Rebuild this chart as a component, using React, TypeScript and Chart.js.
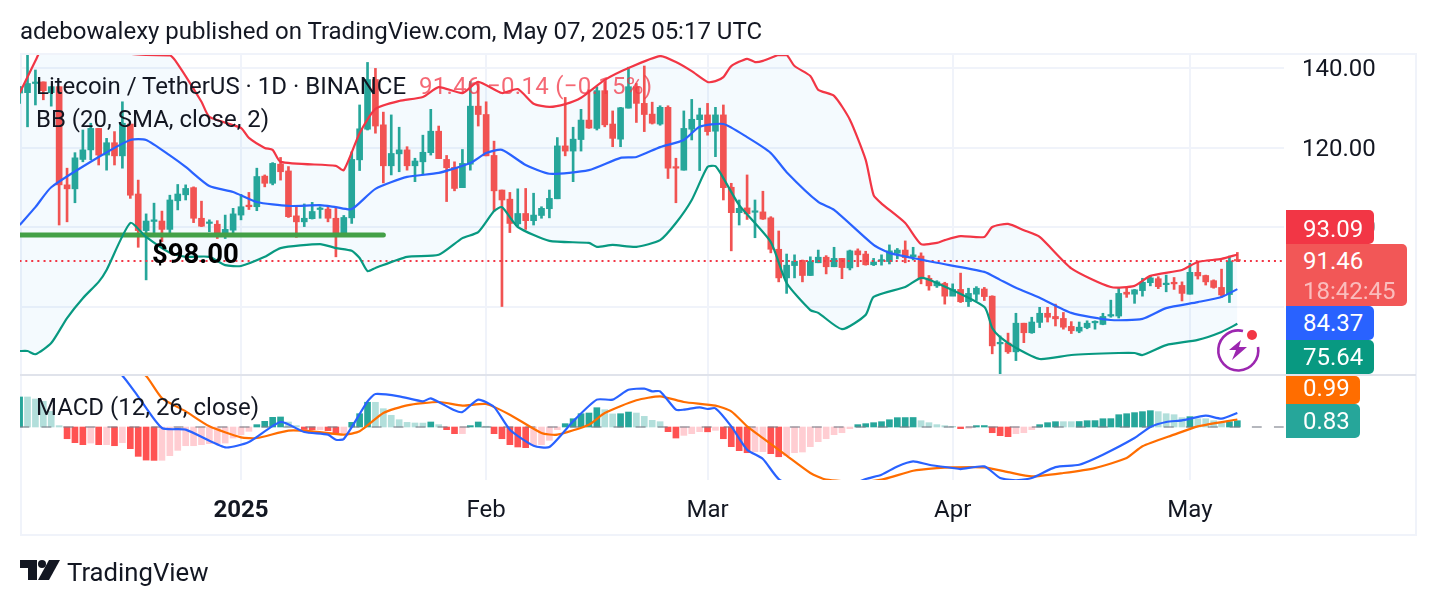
import { useEffect, useRef } from 'react';
import { Chart, registerables } from 'chart.js';

Chart.register(...registerables);

// daily candles, Dec 4 2024 -> May 7 2025
const opens = [
  133.7,133.8,136.1,136.5,133.8,135.3,110.6,109.6,117.0,119.4,
  124.8,118.1,121.2,117.9,125.9,108.3,99.1,101.4,101.5,99.4,
  106.6,108.1,109.9,102.2,100.9,100.7,98.0,99.2,103.0,105.5,
  105.1,112.8,111.0,115.8,114.1,102.8,101.3,102.1,104.4,104.5,
  102.2,98.0,102.3,116.9,124.6,137.1,125.7,115.4,118.4,119.4,
  115.4,116.4,118.7,124.1,117.0,115.0,109.9,115.8,130.4,128.3,
  118.0,109.3,107.0,100.8,103.4,101.6,102.9,104.6,107.1,120.4,
  119.1,122.0,126.9,124.8,134.3,125.9,122.1,129.9,135.3,131.1,
  128.4,125.9,130.1,115.0,114.3,124.6,127.0,128.2,124.1,128.2,
  110.0,103.6,104.8,103.7,103.8,102.3,94.4,87.2,90.3,91.6,
  87.8,91.0,92.4,90.0,92.1,89.7,94.0,93.2,90.5,91.4,
  91.3,93.4,94.2,92.5,92.7,87.1,85.2,85.8,82.6,84.3,
  81.2,83.1,84.4,82.6,70.6,70.8,68.6,75.8,73.4,76.0,
  78.3,77.5,77.0,75.0,73.8,74.7,75.9,75.5,77.6,77.6,
  83.6,83.1,84.0,86.0,87.0,85.5,86.1,85.3,83.1,88.6,
  87.8,86.5,84.8,83.0,91.6,
];
const closes = [
  135.3,136.1,136.4,134.3,135.3,110.6,109.6,117.4,119.4,124.8,
  118.1,121.2,117.9,126.1,108.0,99.1,101.5,101.8,99.4,106.8,
  108.3,109.7,102.2,100.2,101.1,98.2,99.4,103.3,105.1,105.1,
  112.7,111.0,116.0,113.9,102.6,101.3,102.2,103.9,104.7,102.2,
  98.0,102.4,117.0,124.7,137.1,125.4,115.4,118.5,119.4,115.4,
  116.6,118.8,124.1,117.2,114.9,109.7,116.0,130.4,128.3,117.9,
  109.1,106.8,100.9,103.4,101.6,103.0,104.7,107.2,120.4,119.1,
  122.1,126.9,124.9,134.3,125.7,122.3,130.0,135.3,131.1,128.3,
  126.1,130.1,114.8,114.8,124.8,127.1,128.2,124.0,128.2,109.9,
  103.6,104.7,103.3,104.0,102.0,94.4,87.2,90.4,91.4,87.8,
  91.4,92.4,90.0,92.1,89.8,94.0,93.0,90.5,91.2,91.8,
  94.0,94.2,92.3,93.0,87.0,85.2,86.2,82.6,84.3,81.2,
  83.3,84.6,82.5,70.1,71.0,68.6,75.8,73.4,76.1,78.3,
  77.3,76.9,74.8,73.9,74.8,75.8,76.1,77.5,77.9,83.3,
  83.1,84.2,86.1,87.2,85.0,85.8,85.7,83.3,88.6,87.7,
  86.2,84.8,82.9,91.4,91.46,
];
const highs = [
  135.3,143.7,139.5,136.5,135.3,135.3,114.8,118.7,124.4,126.1,
  124.8,122.3,124.0,131.5,125.9,111.8,103.3,106.0,104.0,108.0,
  110.7,110.6,110.1,106.5,101.8,101.6,103.0,104.7,108.2,108.7,
  114.8,113.1,116.2,117.5,115.2,105.1,105.8,106.2,105.1,105.3,
  104.7,102.9,118.9,130.7,141.4,139.9,128.9,128.2,125.1,120.2,
  117.3,123.1,129.6,125.4,118.0,116.4,119.5,136.6,136.1,131.5,
  121.6,109.3,108.7,109.6,109.7,108.5,105.1,109.3,122.5,132.6,
  125.1,129.6,134.5,135.3,136.6,129.2,130.1,140.2,136.1,140.5,
  131.4,130.5,130.5,117.3,129.2,132.1,129.9,131.1,130.1,130.7,
  111.0,106.8,113.1,106.8,109.0,102.6,99.0,93.2,93.0,91.7,
  92.5,94.2,92.8,94.9,92.1,94.2,94.5,93.9,92.1,93.0,
  95.5,94.6,96.5,94.9,93.5,87.8,86.5,86.1,85.7,88.4,
  84.6,85.0,84.8,82.7,72.6,73.3,78.3,75.8,77.3,79.8,
  79.8,80.6,78.5,76.2,76.1,76.4,76.4,78.3,81.6,84.6,
  84.7,84.3,87.1,87.8,87.5,87.9,87.3,86.2,90.9,91.4,
  87.9,86.7,89.4,92.7,93.6,
];
const lows = [
  131.1,125.2,130.7,132.0,130.4,100.5,101.3,106.1,116.4,116.9,
  115.6,114.3,115.6,114.8,107.2,94.9,86.7,98.0,96.3,98.2,
  104.3,106.8,101.1,100.1,98.8,97.1,97.1,98.0,101.8,104.4,
  104.1,110.1,110.6,111.8,102.4,97.4,100.1,102.0,102.2,101.3,
  92.5,97.7,100.9,114.2,124.4,123.6,111.1,113.1,113.9,114.3,
  111.4,113.1,118.1,117.2,106.4,109.1,109.9,114.3,125.4,117.9,
  103.9,80.0,98.6,100.3,99.4,100.5,102.2,102.3,107.1,117.9,
  111.4,119.1,124.8,124.4,125.2,120.2,120.2,129.9,126.3,124.0,
  125.9,125.6,112.2,106.1,114.3,121.9,114.2,123.1,117.7,106.8,
  94.0,100.5,101.9,97.3,101.9,93.5,86.2,83.3,87.2,86.2,
  87.8,91.0,88.2,90.0,87.0,89.2,90.0,90.4,90.3,90.4,
  90.7,92.0,91.0,91.7,85.7,84.1,84.8,80.6,82.7,81.0,
  80.0,81.5,81.5,68.1,63.0,68.2,66.4,70.9,73.25,74.7,
  76.1,75.1,74.3,73.2,73.4,74.4,74.3,75.4,77.3,77.1,
  82.3,80.8,82.6,85.2,84.5,83.7,84.3,81.4,83.1,86.9,
  85.4,84.6,82.3,81.0,91.3,
];

// bollinger bands, read at the bends of each line: [bar, price]
const upperBand = [
  [0,133.7],[2,141.8],[3,145.5],[6,148],[10,146],[14,143.6],[16,143.3],[19,143.2],[20,141],[23,131.5],
  [24,127.7],[28,124.9],[29,122.4],[31,119.9],[32,119.4],[33,116.4],[40,115.4],[41,114.3],[43,123.6],[45,129.7],
  [48,131.7],[51,132.7],[53,135.2],[56,133.7],[58,136.5],[61,133.7],[63,134.7],[65,131],[67,130.2],[69,130.9],
  [71,132.5],[74,137],[77,140],[81,143],[83,141.5],[85,139.2],[87,136.5],[88,136.7],[89,137.7],[90,140.5],
  [92,142.3],[93,141.5],[94,141.8],[96,143.3],[97,143.3],[98,140.5],[100,138],[101,134.5],[103,133],[105,127],
  [107,116.9],[108,108],[109,105.9],[112,101],[114,95.7],[116,96],[117,96.7],[119,97.7],[122,97.5],[123,100],
  [125,100.8],[127,99.2],[129,97.5],[133,89.6],[138,84.9],[141,85.2],[143,87.7],[147,89.2],[149,91.2],[152,92],
  [154,93.09],
];
const middleBand = [
  [0,100.5],[2,105],[4,110],[10,117.6],[14,121.9],[16,121.9],[19,118],[21,115.1],[24,110.3],[27,108.8],
  [30,106.3],[34,105.3],[38,105.5],[40,105],[42,104.5],[45,109.6],[49,112.6],[53,113.6],[57,116.1],[59,118.6],
  [61,119.4],[64,115.6],[67,113.4],[72,114.3],[76,117.4],[78,117.6],[81,120.1],[84,121.9],[86,125.2],[89,125.9],
  [92,122.6],[95,118.6],[97,113.8],[101,106.3],[103,104.3],[108,95.5],[110,93.5],[114,91.8],[116,91],[122,88.7],
  [124,86.7],[126,84.7],[129,82.2],[133,78.4],[138,76.6],[142,76.9],[145,79.6],[149,81.1],[152,82.4],[154,84.37],
];
const lowerBand = [
  [0,68.8],[1,68.8],[2,68],[4,70.8],[6,77.1],[8,82.1],[10,86.2],[11,89.2],[14,101],[16,97.5],
  [19,93.5],[21,92.5],[24,92.5],[26,90.4],[28,90.2],[31,92.5],[33,94.7],[38,95.7],[40,94.7],[42,94],
  [43,92.2],[44,88.9],[45,89.7],[49,92.5],[53,93],[56,97.2],[58,98.7],[60,104],[61,105],[63,100],
  [67,96.5],[72,96],[73,95],[75,95.5],[78,95],[81,96.7],[83,101],[85,106.8],[87,115.1],[88,115.3],
  [89,112.3],[91,105.5],[95,96.2],[97,85.9],[100,79.1],[101,78.4],[104,74.3],[107,77.9],[108,82.4],[112,84.9],
  [114,87.2],[116,85.9],[122,79.9],[123,74.6],[124,72.3],[126,69.6],[129,66.8],[133,67.8],[139,68.3],[141,68.3],
  [142,67.8],[145,70.3],[149,71.6],[152,73.6],[154,75.64],
];

// macd pane
const macdHist = [
  3.95,3.95,3.68,3.37,2.06,.18,-1.54,-2.06,-2.32,-2.11,
  -2.32,-2.32,-2.46,-2.06,-2.85,-3.86,-4.35,-4.39,-4.38,-3.77,
  -3.07,-2.46,-2.46,-2.32,-2.19,-2.19,-2.11,-1.45,-1.01,-.57,
  .31,.75,1.27,1.32,.66,.18,-.33,-.36,-.35,-.48,
  -.79,-.78,.61,1.75,3.26,3.25,2.41,1.54,.96,.61,
  .53,.52,.66,.31,-.35,-.88,-.87,.18,.66,.1,
  -.88,-1.54,-2.32,-2.63,-2.72,-2.46,-2.32,-1.75,-.35,.44,
  1.09,1.75,1.84,2.54,2.28,1.72,1.75,1.97,1.84,1.4,
  .88,.7,-.61,-1.45,-1.1,-.88,-.61,-.63,-.44,-1.54,
  -2.59,-3.11,-3.38,-3.25,-3.24,-3.51,-3.91,-3.77,-3.38,-3.29,
  -2.59,-1.93,-1.54,-1.01,-.75,-.22,.31,.44,.57,.7,
  .96,1.23,1.24,1.25,.83,.57,.31,.18,.09,-.22,
  -.18,.18,.19,-.75,-1.14,-1.27,-.88,-.75,-.35,.31,
  .57,.7,.7,.7,.72,.83,.84,1.09,1.1,1.62,
  1.75,1.89,2.02,2.15,2.02,1.75,1.62,1.23,1.36,1.09,
  1.09,.83,.57,.7,.83,
];
const macdLine = [
  [10,9.5],[13,6.75],[15,4],[18,-.13],[21,-.35],[26,-2.68],[29,-1.97],[33,.66],[36,-.66],[39,-1.01],
  [40,-1.67],[41,-1.58],[44,3.36],[45,4.34],[48,4.04],[51,3.37],[52,3.77],[55,2.19],[56,1.97],[58,3.6],
  [60,2.63],[62,-.35],[65,-2.46],[67,-2.63],[70,.75],[73,3.6],[75,3.6],[77,4.9],[79,5.04],[80,4.69],
  [81,4.69],[83,2.28],[84,2.28],[86,2.59],[87,2.37],[88,2.46],[90,.09],[92,-2.98],[94,-4.21],[96,-6.84],
  [100,-9],[103,-8.5],[107,-6.84],[109,-6.27],[111,-5.18],[113,-4.52],[115,-4.96],[118,-5.39],[119,-5.53],[122,-5.18],
  [124,-6.7],[126,-7],[128,-6.7],[131,-5.27],[134,-4.96],[137,-3.64],[141,-1.45],[143,0],[145,.66],[147,.88],
  [150,1.49],[152,1.1],[154,1.85],
];
const signalLine = [
  [10,12],[13,9],[16,6.7],[18,3.8],[21,2.06],[24,.09],[28,-1.36],[30,-1.45],[34,-.48],[37,-.57],
  [41,-1.01],[43,-.57],[46,1.84],[49,2.85],[53,3.29],[56,2.81],[59,3.03],[62,1.62],[66,-.79],[68,-1.01],
  [72,.31],[74,1.84],[78,3.51],[81,4.04],[84,3.29],[88,2.81],[90,2.06],[92,.09],[94,-1.45],[97,-3.77],
  [100,-6.05],[102,-6.93],[106,-7.2],[109,-6.93],[113,-5.75],[116,-5.4],[118,-5.3],[122,-5.3],[125,-5.93],[128,-6.5],
  [132,-6.05],[136,-5.4],[140,-4.07],[142,-2.54],[146,-1],[149,.09],[154,.99],
];

const lastPrice = 91.46;
const levelPrice = 98;
const levelBars = [0, 46];
const lastBars = [0, 160];
const zeroBars = [0, 160];

const priceTicks = [80, 100, 120, 140];
const timeTicks = [28, 59, 87, 118, 148];
const timeLabels = ['2025', 'Feb', 'Mar', 'Apr', 'May'];

const UP = '#26a69a';
const DOWN = '#f15352';
const FONT = 'Roboto';
const INK = '#131722';

const toPoints = (rows: number[][]) => rows.map(([x, y]) => ({ x, y }));
const lineDefaults = { type: 'line' as const, pointRadius: 0, tension: 0.2, borderJoinStyle: 'round' as const };

const tag = (top: number, height: number, width: number, bg: string, textShift = 0) => ({
  position: 'absolute' as const,
  left: 1286,
  top,
  height,
  width,
  background: bg,
  color: '#fff',
  borderRadius: '0 5px 5px 0',
  font: `24px ${FONT}`,
  lineHeight: `${height + textShift * 2}px`,
  paddingLeft: 17,
  boxSizing: 'border-box' as const,
});

const label = (left: number, top: number, size = 24, extra = {}) => ({
  position: 'absolute' as const,
  left,
  top,
  font: `${size}px/28px ${FONT}`,
  color: INK,
  whiteSpace: 'nowrap' as const,
  ...extra,
});

const App = () => {
  const canvasRef = useRef<HTMLCanvasElement | null>(null);

  useEffect(() => {
    if (!canvasRef.current) return;

    const bars = opens.map((_, i) => i);
    const candleColor = (ctx: any) => (closes[ctx.dataIndex] >= opens[ctx.dataIndex] ? UP : DOWN);
    const histColor = (ctx: any) => {
      const i = ctx.dataIndex;
      const v = macdHist[i];
      const rising = i === 0 || v > macdHist[i - 1];
      if (v >= 0) return rising ? UP : '#b2dfdb';
      return rising || v === macdHist[i - 1] ? '#ffcdd2' : '#ff5252';
    };

    const chart = new Chart(canvasRef.current, {
      type: 'bar',
      data: {
        datasets: [
          {
            ...lineDefaults,
            data: toPoints(upperBand),
            borderColor: '#f23645',
            borderWidth: 2.2,
            fill: '+1',
            backgroundColor: 'rgba(33,150,243,0.05)',
            order: 1,
          },
          { ...lineDefaults, data: toPoints(lowerBand), borderColor: '#089981', borderWidth: 2.2, order: 1 },
          { ...lineDefaults, data: toPoints(middleBand), borderColor: '#2962ff', borderWidth: 2.2, order: 1 },
          {
            ...lineDefaults,
            data: lastBars.map((x) => ({ x, y: lastPrice })),
            borderColor: '#f23645',
            borderWidth: 2,
            borderDash: [2, 4],
            order: 2,
          },
          {
            ...lineDefaults,
            data: levelBars.map((x) => ({ x, y: levelPrice })),
            borderColor: '#43a047',
            borderWidth: 5,
            borderCapStyle: 'round',
            order: 2,
          },
          {
            type: 'bar',
            data: bars.map((x) => ({ x, y: [lows[x], highs[x]] })),
            backgroundColor: candleColor,
            barThickness: 2,
            order: 4,
          },
          {
            type: 'bar',
            data: bars.map((x) => ({ x, y: [opens[x], closes[x]] })),
            backgroundColor: candleColor,
            barThickness: 6,
            minBarLength: 1.5,
            order: 3,
          },
          {
            type: 'bar',
            yAxisID: 'y2',
            data: bars.map((x) => ({ x, y: macdHist[x] })),
            backgroundColor: histColor,
            barThickness: 6,
            order: 4,
          },
          {
            ...lineDefaults,
            yAxisID: 'y2',
            data: zeroBars.map((x) => ({ x, y: 0 })),
            borderColor: 'rgba(120,123,134,0.55)',
            borderWidth: 2,
            borderDash: [10, 12],
            order: 3,
          },
          { ...lineDefaults, yAxisID: 'y2', data: toPoints(macdLine), borderColor: '#2962ff', borderWidth: 2.2, order: 1 },
          { ...lineDefaults, yAxisID: 'y2', data: toPoints(signalLine), borderColor: '#ff6d00', borderWidth: 2.2, order: 1 },
        ] as any,
      },
      options: {
        responsive: false,
        animation: false,
        devicePixelRatio: 1,
        layout: { padding: { left: 20, top: 55, right: 0, bottom: 70 } },
        datasets: { bar: { grouped: false } },
        plugins: {
          legend: { display: false },
          tooltip: { enabled: false },
          filler: { drawTime: 'beforeDatasetsDraw' },
        },
        scales: {
          x: {
            type: 'linear',
            min: 0.05,
            max: 159.9,
            offset: false,
            afterBuildTicks: (s: any) => {
              s.ticks = timeTicks.map((value) => ({ value }));
            },
            afterFit: (s: any) => {
              s.height = 56;
            },
            grid: { color: '#f0f3fa', lineWidth: 2, drawTicks: false, offset: false },
            border: { display: false },
            ticks: {
              padding: 17,
              color: INK,
              maxRotation: 0,
              autoSkip: false,
              font: (ctx: any) => ({
                family: FONT,
                size: 24,
                weight: ctx.tick && ctx.tick.value === timeTicks[0] ? 'bold' : 'normal',
              }),
              callback: (v: any) => timeLabels[timeTicks.indexOf(v)],
            },
          },
          y: {
            type: 'linear',
            position: 'right',
            stack: 'panes',
            stackWeight: 320,
            weight: 1,
            min: 62.77,
            max: 143.27,
            afterBuildTicks: (s: any) => {
              s.ticks = priceTicks.map((value) => ({ value }));
            },
            afterFit: (s: any) => {
              s.width = 152;
            },
            grid: { color: '#f0f3fa', lineWidth: 2, drawTicks: false },
            border: { display: false },
            ticks: {
              padding: 18,
              labelOffset: 2,
              color: INK,
              font: { family: FONT, size: 24 },
              callback: (v: any) => Number(v).toFixed(2),
            },
          },
          y2: {
            type: 'linear',
            position: 'right',
            stack: 'panes',
            stackWeight: 105,
            weight: 2,
            min: -6.97,
            max: 6.84,
            afterFit: (s: any) => {
              s.width = 152;
            },
            grid: { display: false },
            border: { display: false },
            ticks: { display: false },
          },
        },
      } as any,
    });

    return () => chart.destroy();
  }, []);

  return (
    <div style={{ position: 'absolute', left: 0, top: 0, width: 1436, height: 606, background: '#fff', overflow: 'hidden' }}>
      <div style={{ position: 'absolute', left: 20, top: 53, width: 1397, height: 483, border: '2px solid #f0f3fa', boxSizing: 'border-box' }} />
      <canvas ref={canvasRef} width={1436} height={606} style={{ position: 'absolute', left: 0, top: 0 }} />
      <div style={{ position: 'absolute', left: 20, top: 374, width: 1396, height: 2, background: '#e0e3eb' }} />

      <div style={label(20, 17)}>adebowalexy published on TradingView.com, May 07, 2025 05:17 UTC</div>
      <div style={label(36, 72)}>Litecoin / TetherUS · 1D · BINANCE</div>
      <div style={label(419, 72, 24, { color: 'rgba(242,54,69,0.75)', letterSpacing: 0.3 })}>91.46 −0.14 (−0.15%)</div>
      <div style={label(36, 105)}>BB (20, SMA, close, 2)</div>
      <div style={label(36, 393)}>MACD (12, 26, close)</div>
      <div style={label(152, 240, 27.5, { fontWeight: 'bold', color: '#000' })}>$98.00</div>

      <div style={tag(210, 34, 88, '#f23645', 2)}>93.09</div>
      <div style={{ ...tag(244, 62, 121, '#f25757'), lineHeight: '33px', paddingTop: 1 }}>
        <div style={{ height: 30 }}>91.46</div>
        <div style={{ height: 29, opacity: 0.6 }}>18:42:45</div>
      </div>
      <div style={tag(306, 34, 88, '#2962ff')}>84.37</div>
      <div style={tag(340, 34, 88, '#089981')}>75.64</div>
      <div style={tag(376, 28, 74, '#ff6d00', -2)}>0.99</div>
      <div style={tag(404, 34, 74, '#26a69a')}>0.83</div>

      <svg width={70} height={60} viewBox="0 0 70 60" style={{ position: 'absolute', left: 1205, top: 320 }}>
        <path d="M 53 27 A 20 20 0 1 1 38 11" fill="none" stroke="#9c27b0" strokeWidth={2.6} />
        <path d="M 36 20 L 24 30 L 31 30 L 27 40 L 42 27 L 34 27 Z" fill="#9c27b0" />
        <circle cx={47} cy={15} r={5} fill="#f23645" />
      </svg>

      <svg width={40} height={20} viewBox="0 0 40 20" style={{ position: 'absolute', left: 20, top: 560 }}>
        <path d="M0 0 H17 V20 H8 V8 H0 Z" fill={INK} />
        <circle cx={22} cy={4} r={4} fill={INK} />
        <path d="M29 0 H40 L29 20 H18 Z" fill={INK} />
      </svg>
      <div style={label(67, 558, 25.7)}>TradingView</div>
    </div>
  );
};

export default App;
